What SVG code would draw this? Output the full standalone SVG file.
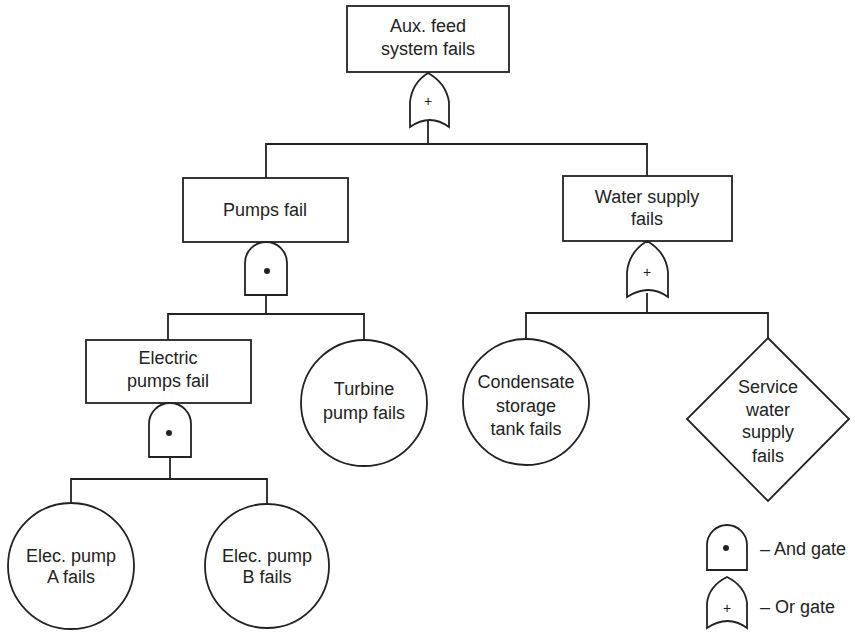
<svg xmlns="http://www.w3.org/2000/svg" width="855" height="635" viewBox="0 0 855 635">
  <style>
    .shape { fill: #ffffff; stroke: #222222; stroke-width: 1.8; }
    .line { fill: none; stroke: #222222; stroke-width: 1.8; }
    .label { font-family: "Liberation Sans", Arial, sans-serif; font-size: 18px; fill: #222222; text-anchor: middle; }
    .legend { font-family: "Liberation Sans", Arial, sans-serif; font-size: 18px; fill: #222222; }
    .sign { font-family: "Liberation Sans", Arial, sans-serif; font-size: 14px; fill: #222222; text-anchor: middle; }
    .dot { fill: #222222; }
  </style>
  <rect x="0" y="0" width="855" height="635" fill="#ffffff"/>

  <!-- connectors -->
  <g id="connectors">
    <polyline class="line" points="428,121 428,144"/>
    <polyline class="line" points="266,178 266,144 647,144 647,176"/>
    <polyline class="line" points="266,295 266,314"/>
    <polyline class="line" points="168,340 168,314 364,314 364,340"/>
    <polyline class="line" points="647,293 647,313"/>
    <polyline class="line" points="526,339 526,313 768,313 768,338"/>
    <polyline class="line" points="170,457 170,479"/>
    <polyline class="line" points="71,503 71,479 267,479 267,504"/>
  </g>

  <!-- top event -->
  <g id="aux-feed">
    <rect class="shape" x="347" y="6" width="162" height="66"/>
    <text class="label" x="428" y="32">Aux. feed</text>
    <text class="label" x="428" y="55">system fails</text>
  </g>
  <g id="gate-top-or">
    <path class="shape" d="M410,127 L410,102 Q412,83 428,73 Q446,83 449,102 L449,127 Q430,113 410,127 Z"/>
    <text class="sign" x="428" y="106">+</text>
  </g>

  <g id="pumps-fail">
    <rect class="shape" x="183" y="178" width="165" height="64"/>
    <text class="label" x="265" y="216">Pumps fail</text>
  </g>
  <g id="gate-pumps-and">
    <path class="shape" d="M245,295 L245,263 A21,21 0 0 1 287,263 L287,295 Z"/>
    <circle class="dot" cx="267" cy="271" r="3"/>
  </g>

  <g id="water-supply">
    <rect class="shape" x="563" y="176" width="169" height="65"/>
    <text class="label" x="647" y="203">Water supply</text>
    <text class="label" x="647" y="225">fails</text>
  </g>
  <g id="gate-water-or">
    <path class="shape" d="M627,297 L627,272 Q629,252 647,241 Q666,252 668,272 L668,297 Q649,283 627,297 Z"/>
    <text class="sign" x="647" y="277">+</text>
  </g>

  <g id="electric-pumps">
    <rect class="shape" x="86" y="340" width="165" height="63"/>
    <text class="label" x="168" y="364">Electric</text>
    <text class="label" x="168" y="387">pumps fail</text>
  </g>
  <g id="gate-electric-and">
    <path class="shape" d="M149,457 L149,424 A21,21 0 0 1 191,424 L191,457 Z"/>
    <circle class="dot" cx="169" cy="433" r="3"/>
  </g>

  <g id="turbine-pump">
    <circle class="shape" cx="364" cy="403" r="63"/>
    <text class="label" x="364" y="395">Turbine</text>
    <text class="label" x="364" y="419">pump fails</text>
  </g>

  <g id="condensate-tank">
    <circle class="shape" cx="526" cy="402" r="63"/>
    <text class="label" x="526" y="388">Condensate</text>
    <text class="label" x="526" y="412">storage</text>
    <text class="label" x="526" y="435">tank fails</text>
  </g>

  <g id="service-water">
    <polygon class="shape" points="768,338 849,419 768,501 687,419"/>
    <text class="label" x="768" y="393">Service</text>
    <text class="label" x="768" y="416">water</text>
    <text class="label" x="768" y="438">supply</text>
    <text class="label" x="768" y="462">fails</text>
  </g>

  <g id="pump-a">
    <circle class="shape" cx="71" cy="566" r="63"/>
    <text class="label" x="71" y="562">Elec. pump</text>
    <text class="label" x="71" y="583">A fails</text>
  </g>

  <g id="pump-b">
    <circle class="shape" cx="267" cy="566" r="62"/>
    <text class="label" x="267" y="562">Elec. pump</text>
    <text class="label" x="267" y="583">B fails</text>
  </g>

  <!-- legend -->
  <g id="legend-and">
    <path class="shape" d="M707,570 L707,545 A20,20 0 0 1 747,545 L747,570 Z"/>
    <circle class="dot" cx="726" cy="548" r="3"/>
    <text class="legend" x="760" y="555">– And gate</text>
  </g>
  <g id="legend-or">
    <path class="shape" d="M707,628 L707,603 Q709,586 727,577 Q745,586 747,603 L747,628 Q728,614 707,628 Z"/>
    <text class="sign" x="727" y="613">+</text>
    <text class="legend" x="760" y="613">– Or gate</text>
  </g>
</svg>
